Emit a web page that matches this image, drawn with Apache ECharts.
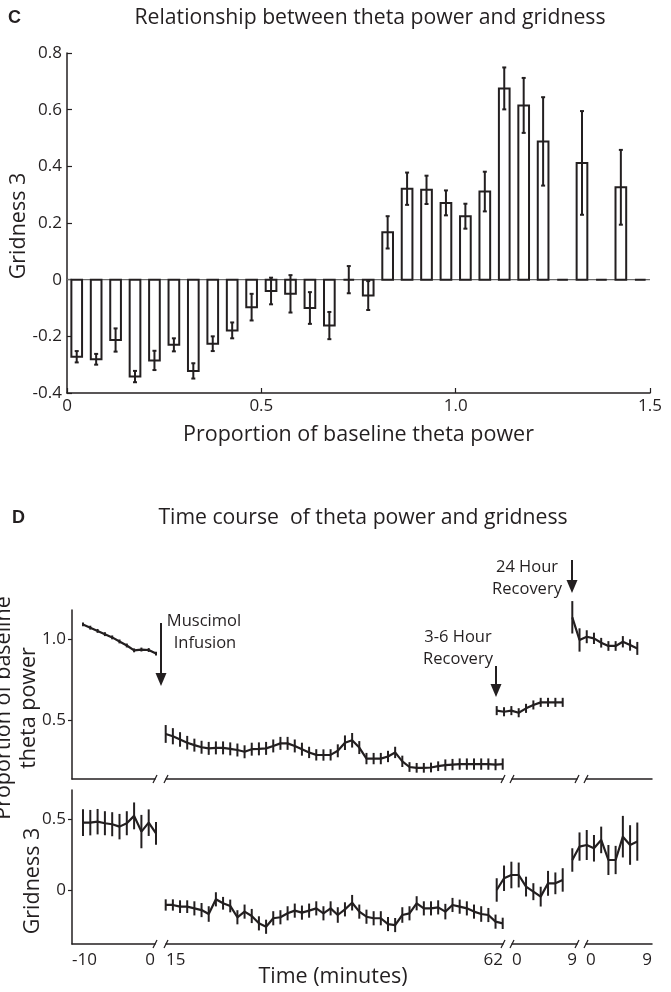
<!DOCTYPE html>
<html><head><meta charset="utf-8">
<script src="https://cdn.jsdelivr.net/npm/echarts@6/dist/echarts.min.js"></script>
<style>html,body{margin:0;padding:0;background:#fff}#c{width:671px;height:992px}</style>
</head><body><div id="c"></div>
<script>
// ---------- Panel C data ----------
const C_BIN_CENTERS = [0.025,0.075,0.125,0.175,0.225,0.275,0.325,0.375,0.425,0.475,0.525,0.575,0.625,0.675,0.725,0.775,0.825,0.875,0.925,0.975,1.025,1.075,1.125,1.175,1.225,1.275,1.325,1.375,1.425,1.475];
const C_GRIDNESS = [-0.272,-0.281,-0.213,-0.342,-0.285,-0.230,-0.322,-0.226,-0.179,-0.097,-0.040,-0.050,-0.100,-0.162,0.000,-0.056,0.167,0.321,0.317,0.271,0.224,0.311,0.675,0.615,0.488,0,0.412,0,0.326,0];
const C_ERR = [0.020,0.019,0.041,0.020,0.034,0.023,0.027,0.026,0.028,0.047,0.047,0.066,0.056,0.048,0.048,0.051,0.057,0.057,0.050,0.044,0.044,0.070,0.074,0.097,0.156,0,0.183,0,0.132,0];
const C_BIN_WIDTH = 0.05;

// ---------- Panel D data ----------
const T_PRE  = [-10,-9,-8,-7,-6,-5,-4,-3,-2,-1,0];
const T_POST = [15,16,17,18,19,20,21,22,23,24,25,26,27,28,29,30,31,32,33,34,35,36,37,38,39,40,41,42,43,44,45,46,47,48,49,50,51,52,53,54,55,56,57,58,59,60,61,62];
const T_REC  = [0,1,2,3,4,5,6,7,8,9];

const THETA_PRE = [1.090,1.070,1.050,1.030,1.010,0.985,0.960,0.930,0.935,0.932,0.910];
const THETA_PRE_ERR = [0.012,0.012,0.012,0.012,0.012,0.012,0.012,0.012,0.012,0.012,0.012];
const THETA_POST = [0.414,0.400,0.380,0.360,0.345,0.332,0.325,0.328,0.328,0.322,
                    0.315,0.304,0.320,0.322,0.325,0.340,0.356,0.356,0.340,0.320,
                    0.300,0.285,0.284,0.285,0.310,0.360,0.375,0.330,0.262,0.262,
                    0.262,0.275,0.300,0.245,0.210,0.205,0.205,0.207,0.215,0.222,
                    0.225,0.228,0.228,0.228,0.228,0.228,0.225,0.228];
const THETA_POST_ERR = [0.055,0.050,0.045,0.042,0.040,0.040,0.040,0.040,0.040,0.040,
                        0.040,0.040,0.040,0.040,0.040,0.040,0.040,0.040,0.040,0.040,
                        0.035,0.035,0.035,0.035,0.040,0.045,0.045,0.040,0.035,0.035,
                        0.035,0.035,0.035,0.035,0.030,0.030,0.030,0.030,0.030,0.035,
                        0.035,0.035,0.035,0.035,0.035,0.035,0.035,0.035];
const THETA_REC36 = [0.558,0.551,0.558,0.545,0.572,0.593,0.609,0.609,0.609,0.609];
const THETA_REC36_ERR = [0.028,0.028,0.028,0.028,0.028,0.028,0.028,0.028,0.028,0.028];
const THETA_REC24 = [1.134,0.994,1.014,1.004,0.977,0.957,0.957,0.983,0.963,0.942];
const THETA_REC24_ERR = [0.100,0.072,0.040,0.035,0.030,0.030,0.030,0.035,0.035,0.040];

const GRID_PRE = [0.476,0.476,0.483,0.472,0.465,0.448,0.472,0.524,0.413,0.476,0.400];
const GRID_PRE_ERR = [0.094,0.090,0.090,0.085,0.085,0.090,0.085,0.095,0.118,0.094,0.080];
const GRID_POST = [-0.106,-0.106,-0.118,-0.118,-0.130,-0.142,-0.170,-0.066,-0.094,-0.113,
                   -0.193,-0.153,-0.184,-0.236,-0.260,-0.200,-0.193,-0.165,-0.146,-0.160,
                   -0.146,-0.130,-0.165,-0.130,-0.177,-0.137,-0.090,-0.153,-0.189,-0.200,
                   -0.200,-0.241,-0.248,-0.177,-0.165,-0.094,-0.130,-0.130,-0.123,-0.153,
                   -0.106,-0.118,-0.130,-0.153,-0.170,-0.177,-0.224,-0.236];
const GRID_POST_ERR = [0.040,0.040,0.045,0.045,0.050,0.050,0.055,0.050,0.045,0.045,
                       0.050,0.050,0.050,0.050,0.050,0.050,0.050,0.050,0.050,0.050,
                       0.050,0.050,0.050,0.050,0.055,0.050,0.055,0.050,0.050,0.050,
                       0.050,0.050,0.050,0.055,0.050,0.050,0.050,0.050,0.050,0.055,
                       0.050,0.050,0.050,0.050,0.055,0.050,0.050,0.040];
const GRID_REC36 = [0.000,0.083,0.106,0.106,0.024,-0.012,-0.047,0.047,0.047,0.071];
const GRID_REC36_ERR = [0.083,0.090,0.094,0.088,0.070,0.060,0.070,0.088,0.077,0.083];
const GRID_REC24 = [0.212,0.307,0.318,0.295,0.354,0.212,0.212,0.377,0.318,0.342];
const GRID_REC24_ERR = [0.083,0.100,0.106,0.094,0.094,0.106,0.100,0.147,0.140,0.135];

const SEG_TICK_LABELS = [['-10','0'],['15','62'],['0','9'],['0','9']];

// ---------- layout ----------
const INK = '#231f20';
const FONT = 'Open Sans';
const TICK_FS = 17, NAME_FS = 21.5, NOTE_FS = 16.5, TITLE_FS = 21.2;
const SEG_AXIS_PX = [[72,155],[166,503],[512,577],[586,652]];   // drawn axis segments
const SEG_DATA_PX = [[83,156],[165.7,502.7],[496.7,562.7],[572.3,637.3]]; // where data sit
const SEG_DATA_EXT = [[-10,0],[15,62],[0,9],[0,9]];
const ROWS = [{top:610,height:169,min:0.136,max:1.179,ticks:[0.5,1.0]},
              {top:790,height:154,min:-0.382,max:0.707,ticks:[0,0.5]}];

const chart = echarts.init(document.getElementById('c'), null, {renderer:'canvas'});

function errRender(capHalf){
  return function(params, api){
    const x = api.value(0), v = api.value(1), e = api.value(2);
    if (!(e > 0)) return null;
    const p1 = api.coord([x, v + e]), p2 = api.coord([x, v - e]);
    const ch = [{type:'line', shape:{x1:p1[0],y1:p1[1],x2:p2[0],y2:p2[1]}, style:{stroke:INK,lineWidth:2}}];
    if (capHalf) {
      ch.push({type:'line', shape:{x1:p1[0]-capHalf,y1:p1[1],x2:p1[0]+capHalf,y2:p1[1]}, style:{stroke:INK,lineWidth:2}});
      ch.push({type:'line', shape:{x1:p2[0]-capHalf,y1:p2[1],x2:p2[0]+capHalf,y2:p2[1]}, style:{stroke:INK,lineWidth:2}});
    }
    return {type:'group', children:ch};
  };
}

function barRender(params, api){
  const x = api.value(0), v = api.value(1);
  const w = api.size([C_BIN_WIDTH, 0])[0] * 0.55;
  const p0 = api.coord([x, 0]), p1 = api.coord([x, v]);
  return {type:'rect', shape:{x:p0[0]-w/2, y:Math.min(p0[1],p1[1]), width:w, height:Math.abs(p1[1]-p0[1])},
          style:{fill:'#fff', stroke:INK, lineWidth:2}};
}

function mkGrid(left, width, top, height){
  return {left:left, width:width, top:top, height:height, containLabel:false, outerBoundsMode:'none'};
}

const labelStyle = {fontSize:TICK_FS, color:INK, fontFamily:FONT};
const grid = [mkGrid(67, 583, 53, 340)];
const xAxis = [{
  type:'value', gridIndex:0, min:0, max:1.5, interval:0.5,
  axisLine:{onZero:false, lineStyle:{color:INK,width:1.5}},
  axisTick:{inside:true, length:5, lineStyle:{color:INK,width:1.2}},
  axisLabel:Object.assign({formatter:v => v === 0 ? '0' : v.toFixed(1), margin:5}, labelStyle),
  splitLine:{show:false},
  name:'Proportion of baseline theta power', nameLocation:'middle', nameGap:31,
  nameTextStyle:{fontSize:NAME_FS, color:INK, fontFamily:FONT}
}];
const yAxis = [{
  type:'value', gridIndex:0, min:-0.4, max:0.8, interval:0.2,
  axisLine:{onZero:false, lineStyle:{color:INK,width:1.5}},
  axisTick:{inside:true, length:5, lineStyle:{color:INK,width:1.2}},
  axisLabel:Object.assign({formatter:v => Math.abs(v) < 1e-9 ? '0' : v.toFixed(1), margin:5}, labelStyle),
  splitLine:{show:false}
}];

// axis grids (1..8): drawn axis segments with labels
ROWS.forEach((row, r) => {
  SEG_AXIS_PX.forEach((px, s) => {
    const g = grid.length;
    grid.push(mkGrid(px[0], px[1]-px[0], row.top, row.height));
    const labs = SEG_TICK_LABELS[s].map(Number);
    xAxis.push({
      type:'value', gridIndex:g, min:labs[0], max:labs[1],
      axisLine:{onZero:false, lineStyle:{color:INK,width:1.5}},
      axisTick:{show:false}, splitLine:{show:false},
      axisLabel: r === 1 ? Object.assign({show:true, customValues:labs, formatter:v => String(v),
        alignMinLabel:'left', alignMaxLabel:'right', margin:8}, labelStyle) : {show:false}
    });
    yAxis.push({
      type:'value', gridIndex:g, min:row.min, max:row.max, show: s === 0,
      axisLine:{show:true, onZero:false, lineStyle:{color:INK,width:1.5}},
      axisTick:{show:true, inside:false, length:4, customValues:row.ticks, lineStyle:{color:INK,width:1.2}},
      axisLabel:Object.assign({show:true, customValues:row.ticks, margin:6,
        formatter:v => Math.abs(v) < 1e-9 ? '0' : v.toFixed(1)}, labelStyle),
      splitLine:{show:false}
    });
  });
});
// data grids (9..16): hidden axes, hold the time-course series
const DATA_GRID0 = grid.length;
ROWS.forEach((row, r) => {
  SEG_DATA_PX.forEach((px, s) => {
    const g = grid.length;
    grid.push(mkGrid(px[0], px[1]-px[0], row.top, row.height));
    xAxis.push({type:'value', gridIndex:g, min:SEG_DATA_EXT[s][0], max:SEG_DATA_EXT[s][1], show:false});
    yAxis.push({type:'value', gridIndex:g, min:row.min, max:row.max, show:false});
  });
});

const series = [];
series.push({type:'line', xAxisIndex:0, yAxisIndex:0, data:[[0,0],[1.5,0]], symbol:'none',
  lineStyle:{color:'#6d6d6d', width:1.3}, z:1, silent:true});
series.push({type:'custom', xAxisIndex:0, yAxisIndex:0, z:3,
  data:C_BIN_CENTERS.map((x,i) => [x, C_GRIDNESS[i], C_ERR[i]]), renderItem:barRender});
series.push({type:'custom', xAxisIndex:0, yAxisIndex:0, z:4,
  data:C_BIN_CENTERS.map((x,i) => [x, C_GRIDNESS[i], C_ERR[i]]), renderItem:errRender(2)});

const D_SETS = [
  [T_PRE, THETA_PRE, THETA_PRE_ERR], [T_POST, THETA_POST, THETA_POST_ERR],
  [T_REC, THETA_REC36, THETA_REC36_ERR], [T_REC, THETA_REC24, THETA_REC24_ERR],
  [T_PRE, GRID_PRE, GRID_PRE_ERR], [T_POST, GRID_POST, GRID_POST_ERR],
  [T_REC, GRID_REC36, GRID_REC36_ERR], [T_REC, GRID_REC24, GRID_REC24_ERR]
];
D_SETS.forEach((set, k) => {
  const g = DATA_GRID0 + k;
  const [t, v, e] = set;
  series.push({type:'line', xAxisIndex:g, yAxisIndex:g, clip:false, symbol:'none',
    data:t.map((x,i) => [x, v[i]]), lineStyle:{color:INK, width:2.2}, z:3, silent:true});
  series.push({type:'custom', xAxisIndex:g, yAxisIndex:g, clip:false, z:3,
    data:t.map((x,i) => [x, v[i], e[i]]), renderItem:errRender(0)});
});

// decorations: axis break marks, annotations, panel letters, titles
const graphic = [];
function txt(x, y, text, size, opts){
  opts = opts || {};
  graphic.push({type:'text', x:x, y:y, rotation:opts.rot || 0, z:10,
    style:{text:text, fill:INK, font:(opts.bold ? 'bold ' : '') + size + 'px ' + (opts.family || '"Open Sans"'),
      align:opts.align || 'center', verticalAlign:'middle', textAlign:opts.align || 'center', textVerticalAlign:'middle'}});
}
function arrow(x, y1, y2){
  graphic.push({type:'line', z:10, shape:{x1:x, y1:y1, x2:x, y2:y2-8}, style:{stroke:INK, lineWidth:2}});
  graphic.push({type:'polygon', z:10, shape:{points:[[x-5.5,y2-13],[x+5.5,y2-13],[x,y2]]}, style:{fill:INK}});
}
ROWS.forEach(row => {
  const yb = row.top + row.height;
  SEG_AXIS_PX.forEach((px, s) => {
    if (s > 0) graphic.push({type:'line', z:10, shape:{x1:px[0]-2, y1:yb+4, x2:px[0]+2, y2:yb-4}, style:{stroke:INK, lineWidth:1.3}});
    if (s < 3) graphic.push({type:'line', z:10, shape:{x1:px[1]-2, y1:yb+4, x2:px[1]+2, y2:yb-4}, style:{stroke:INK, lineWidth:1.3}});
  });
});
txt(8, 18, 'C', 18, {bold:true, align:'left', family:'"Liberation Sans"'});
txt(370, 18, 'Relationship between theta power and gridness', TITLE_FS);
txt(19, 226, 'Gridness 3', NAME_FS, {rot:Math.PI/2});
txt(12, 518, 'D', 18, {bold:true, align:'left', family:'"Liberation Sans"'});
txt(363, 518, 'Time course  of theta power and gridness', TITLE_FS);
txt(4, 708, 'Proportion of baseline', NAME_FS, {rot:Math.PI/2});
txt(29, 708, 'theta power', NAME_FS, {rot:Math.PI/2});
txt(33, 881, 'Gridness 3', NAME_FS, {rot:Math.PI/2});
txt(333, 977, 'Time (minutes)', NAME_FS);
txt(204, 621, 'Muscimol', NOTE_FS);
txt(205, 643, 'Infusion', NOTE_FS);
arrow(161, 623, 686);
txt(458, 637, '3-6 Hour', NOTE_FS);
txt(458, 659, 'Recovery', NOTE_FS);
arrow(496, 666, 697);
txt(527, 567, '24 Hour', NOTE_FS);
txt(527, 589, 'Recovery', NOTE_FS);
arrow(572, 560, 593);

chart.setOption({animation:false, backgroundColor:'#fff', grid, xAxis, yAxis, series, graphic});
</script></body></html>
